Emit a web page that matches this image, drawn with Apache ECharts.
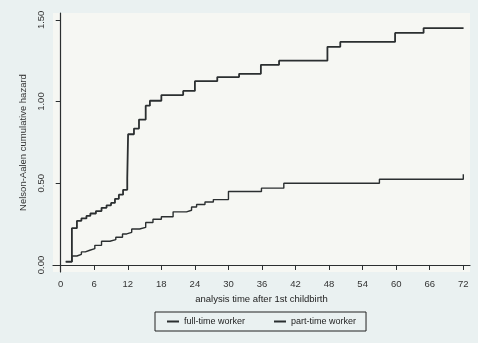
<!DOCTYPE html>
<html>
<head>
<meta charset="utf-8">
<script src="https://cdn.jsdelivr.net/npm/echarts@6/dist/echarts.min.js"></script>
<style>
html,body{margin:0;padding:0;background:#eaf1f1;}
#c{width:478px;height:343px;}
</style>
</head>
<body>
<div id="c"></div>
<script>
// Months after 1st childbirth and Nelson-Aalen cumulative hazard (step function)
const fullTimeX = [0.9, 2.0, 2.9, 3.7, 4.6, 5.3, 6.3, 7.3, 8.2, 9.0, 9.7, 10.4, 11.15, 11.9, 12.05, 13.1, 14.0, 15.2, 15.95, 18.0, 21.9, 24.0, 28.0, 31.9, 35.8, 39.05, 47.7, 50.0, 59.8, 64.9, 72.05];
const fullTimeY = [0.02, 0.225, 0.27, 0.285, 0.30, 0.315, 0.33, 0.35, 0.365, 0.38, 0.405, 0.43, 0.46, 0.53, 0.80, 0.835, 0.89, 0.975, 1.005, 1.04, 1.065, 1.125, 1.15, 1.17, 1.225, 1.25, 1.335, 1.365, 1.42, 1.45, 1.45];
const partTimeX = [0.9, 2.0, 2.9, 3.7, 4.4, 5.2, 6.1, 7.3, 8.8, 9.85, 11.05, 11.8, 12.7, 14.1, 15.2, 16.5, 18.0, 20.1, 22.5, 23.4, 24.3, 25.8, 27.3, 30.0, 35.9, 39.9, 57.0, 72.0];
const partTimeY = [0.02, 0.055, 0.065, 0.08, 0.09, 0.10, 0.12, 0.145, 0.155, 0.17, 0.19, 0.20, 0.22, 0.23, 0.26, 0.28, 0.295, 0.325, 0.335, 0.355, 0.37, 0.385, 0.40, 0.45, 0.47, 0.50, 0.525, 0.555];
const xTicks = [0, 6, 12, 18, 24, 30, 36, 42, 48, 54, 60, 66, 72];
const yTicks = [0, 0.5, 1.0, 1.5];
const seriesNames = ['full-time worker', 'part-time worker'];

const zip = (xs, ys) => xs.map((x, i) => [x, ys[i]]);
const ink = '#2b2f30';
const font = 'Liberation Sans, Arial, sans-serif';

const chart = echarts.init(document.getElementById('c'), null, {renderer: 'canvas'});
chart.setOption({
  backgroundColor: '#eaf1f1',
  animation: false,
  grid: {left: 53, right: 8, top: 13, bottom: 71, show: true, backgroundColor: '#f6f7f3', borderWidth: 0},
  legend: {
    data: seriesNames,
    left: 155, top: 312,
    padding: [5, 10, 5, 12],
    itemGap: 29,
    itemWidth: 12, itemHeight: 2,
    icon: 'rect',
    borderColor: '#222', borderWidth: 1,
    textStyle: {fontFamily: font, fontSize: 9, color: '#222'}
  },
  xAxis: {
    type: 'value',
    min: -1.38, max: 73.2,
    name: 'analysis time after 1st childbirth',
    nameLocation: 'middle', nameGap: 13,
    nameTextStyle: {fontFamily: font, fontSize: 9.5, color: '#222'},
    splitLine: {show: false},
    axisLine: {lineStyle: {color: ink, width: 1.2}},
    axisTick: {customValues: xTicks, length: 5, lineStyle: {color: ink, width: 1}},
    axisLabel: {customValues: xTicks, margin: 7, fontFamily: font, fontSize: 9.5, color: '#333'}
  },
  yAxis: {
    type: 'value',
    min: -0.043, max: 1.542,
    name: 'Nelson-Aalen cumulative hazard',
    nameLocation: 'middle', nameGap: 25, nameRotate: 90,
    nameTextStyle: {fontFamily: font, fontSize: 9.5, color: '#333'},
    splitLine: {show: false},
    axisLine: {show: true, lineStyle: {color: ink, width: 1.2}},
    axisTick: {show: true, customValues: yTicks, length: 5, lineStyle: {color: ink, width: 1}},
    axisLabel: {customValues: yTicks, rotate: 90, margin: 7, fontFamily: font, fontSize: 9.5, color: '#333',
      formatter: v => v.toFixed(2)}
  },
  series: [
    {name: seriesNames[0], type: 'line', step: 'end', showSymbol: false, symbol: 'none',
     data: zip(fullTimeX, fullTimeY), color: ink, lineStyle: {color: ink, width: 1.8}},
    {name: seriesNames[1], type: 'line', step: 'end', showSymbol: false, symbol: 'none',
     data: zip(partTimeX, partTimeY), color: ink, lineStyle: {color: ink, width: 1.4}}
  ]
});
</script>
</body>
</html>
